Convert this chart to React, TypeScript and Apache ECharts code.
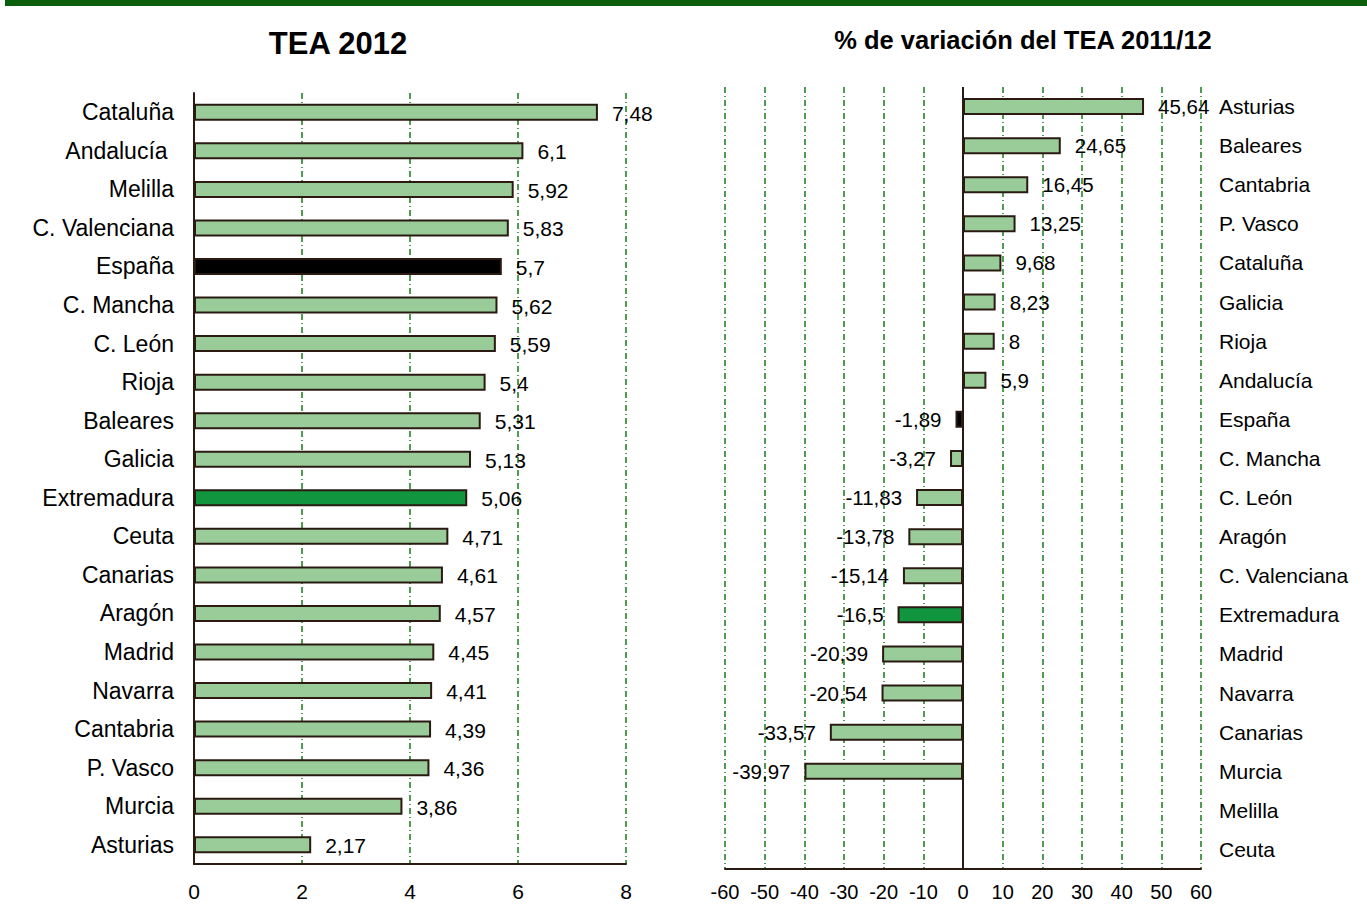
import React, { useEffect, useRef } from "react";
import * as echarts from "echarts";

const leftCategories = ["Cataluña", "Andalucía ", "Melilla", "C. Valenciana", "España", "C. Mancha", "C. León", "Rioja", "Baleares", "Galicia", "Extremadura", "Ceuta", "Canarias", "Aragón", "Madrid", "Navarra", "Cantabria", "P. Vasco", "Murcia", "Asturias"];
const leftValues = [7.48, 6.1, 5.92, 5.83, 5.7, 5.62, 5.59, 5.4, 5.31, 5.13, 5.06, 4.71, 4.61, 4.57, 4.45, 4.41, 4.39, 4.36, 3.86, 2.17];

const rightCategories = ["Asturias", "Baleares", "Cantabria", "P. Vasco", "Cataluña", "Galicia", "Rioja", "Andalucía", "España", "C. Mancha", "C. León", "Aragón", "C. Valenciana", "Extremadura", "Madrid", "Navarra", "Canarias", "Murcia", "Melilla", "Ceuta"];
const rightValues: (number | null)[] = [45.64, 24.65, 16.45, 13.25, 9.68, 8.23, 8, 5.9, -1.89, -3.27, -11.83, -13.78, -15.14, -16.5, -20.39, -20.54, -33.57, -39.97, null, null];

const leftTicks = { min: 0, max: 8, interval: 2 };
const rightTicks = { min: -60, max: 60, interval: 10 };

const leftTitle = "TEA 2012";
const rightTitle = "% de variación del TEA 2011/12";

const FONT = "'Liberation Sans', Arial, sans-serif";
const LIGHT = "#99cc99";
const BORDER = "#2a1a12";
const GRIDC = "#187a18";

function colorFor(name: string) {
  const n = name.trim();
  if (n === "España") return "#000000";
  if (n === "Extremadura") return "#11953f";
  return LIGHT;
}

const fmt = (v: any) => {
  if (v === null || v === undefined || v === "-" || Number.isNaN(v)) return "";
  return String(v).replace(".", ",");
};

export default function App() {
  const ref = useRef<HTMLDivElement>(null);
  useEffect(() => {
    if (!ref.current) return;
    const chart = echarts.init(ref.current, null, { renderer: "svg" });
    const splitStyle = { show: true, lineStyle: { color: GRIDC, type: [6, 3, 1, 3], width: 1.5 } };
    chart.setOption({
      animation: false,
      backgroundColor: "#ffffff",
      textStyle: { fontFamily: FONT },
      graphic: [
        { type: "rect", shape: { x: 5, y: 0, width: 1362, height: 6 }, style: { fill: "#0b5e0b" } },
        { type: "text", x: 338, y: 43, style: { text: leftTitle, font: `bold 31px ${FONT}`, fill: "#000", textAlign: "center", textVerticalAlign: "middle" } },
        { type: "text", x: 1023, y: 40, style: { text: rightTitle, font: `bold 25.5px ${FONT}`, fill: "#000", textAlign: "center", textVerticalAlign: "middle" } },
      ],
      grid: [
        { left: 194, top: 93, width: 432, height: 771, outerBoundsMode: "none" },
        { left: 725, top: 87, width: 476, height: 782, outerBoundsMode: "none" },
      ],
      xAxis: [
        {
          gridIndex: 0, type: "value", ...leftTicks,
          axisLine: { show: true, lineStyle: { color: BORDER, width: 2 } },
          axisTick: { show: false },
          axisLabel: { color: "#000", fontSize: 21, fontFamily: FONT, margin: 17 },
          splitLine: splitStyle,
        },
        {
          gridIndex: 1, type: "value", ...rightTicks,
          axisLine: { show: true, onZero: false, lineStyle: { color: BORDER, width: 2 } },
          axisTick: { show: false },
          axisLabel: { color: "#000", fontSize: 20, fontFamily: FONT, margin: 13 },
          splitLine: splitStyle,
        },
      ],
      yAxis: [
        {
          gridIndex: 0, type: "category", data: leftCategories, inverse: true,
          axisLine: { show: true, lineStyle: { color: BORDER, width: 2 } },
          axisTick: { show: false },
          axisLabel: { color: "#000", fontSize: 23, fontFamily: FONT, margin: 20 },
        },
        {
          gridIndex: 1, type: "category", data: rightCategories, inverse: true, position: "right",
          axisLine: { show: false, onZero: false },
          axisTick: { show: false },
          axisLabel: { color: "#000", fontSize: 21, fontFamily: FONT, margin: 18, align: "left" },
        },
      ],
      series: [
        {
          type: "bar", xAxisIndex: 0, yAxisIndex: 0, barWidth: 17,
          data: leftValues.map((v, i) => ({ value: v, itemStyle: { color: colorFor(leftCategories[i]), borderColor: BORDER, borderWidth: 2 } })),
          label: { show: true, position: "right", distance: 14, offset: [0, 1], color: "#000", fontSize: 21, fontFamily: FONT, formatter: (p: any) => fmt(p.value) },
        },
        {
          type: "bar", xAxisIndex: 1, yAxisIndex: 1, barWidth: 17,
          data: rightValues.map((v, i) => ({
            value: v === null ? "-" : v,
            itemStyle: { color: colorFor(rightCategories[i]), borderColor: BORDER, borderWidth: 2 },
            label: { position: v !== null && v < 0 ? "left" : "right" },
          })),
          label: { show: true, distance: 14, color: "#000", fontSize: 20.5, fontFamily: FONT, formatter: (p: any) => fmt(p.value) },
          markLine: {
            silent: true, symbol: ["none", "none"],
            label: { show: false },
            lineStyle: { color: BORDER, type: "solid", width: 2 },
            data: [{ xAxis: 0 }],
          },
        },
      ],
    });
    return () => chart.dispose();
  }, []);
  return <div ref={ref} style={{ position: "fixed", left: 0, top: 0, width: 1367, height: 921 }} />;
}
